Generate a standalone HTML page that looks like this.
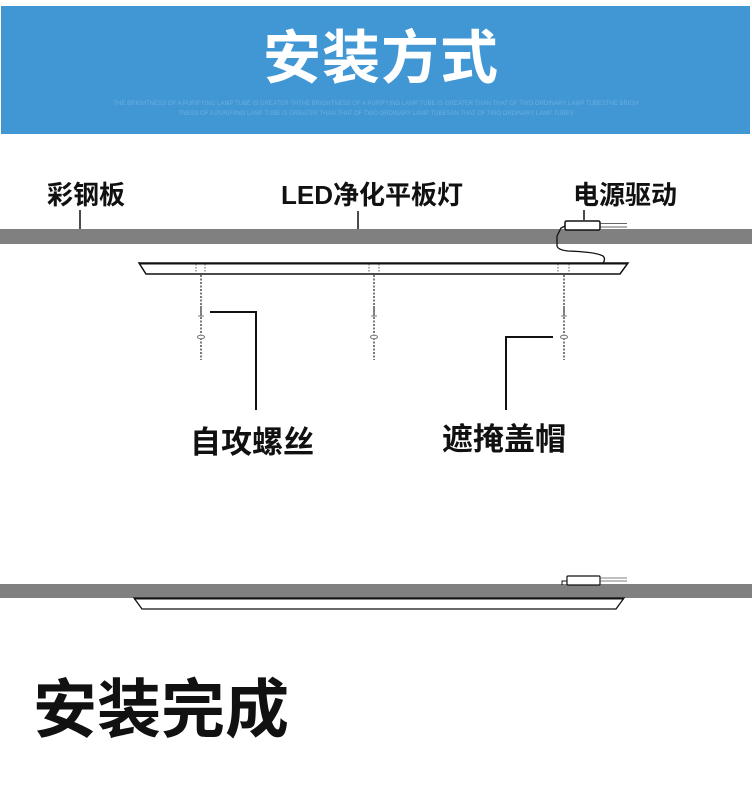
<!DOCTYPE html>
<html><head><meta charset="utf-8"><style>
html,body{margin:0;padding:0;background:#fff;}
body{width:752px;height:805px;position:relative;overflow:hidden;font-family:"Liberation Sans","Noto Sans CJK SC",sans-serif;}
.t{position:absolute;font-weight:bold;color:#111;white-space:nowrap;line-height:1;}
</style></head><body>
<div style="position:absolute;left:1px;top:6px;width:749px;height:128px;background:#4196d4;"></div>
<div class="t" style="left:263px;top:30px;font-size:58px;color:#fff;letter-spacing:1px;">安装方式</div>
<div style="position:absolute;left:0;width:752px;top:99px;text-align:center;font-size:6px;color:#6aaee0;line-height:10px;font-family:'Liberation Sans',sans-serif;">THE BRIGHTNESS OF A PURIFYING LAMP TUBE IS GREATER THTHE BRIGHTNESS OF A PURIFYING LAMP TUBE IS GREATER THAN THAT OF TWO ORDINARY LAMP TUBESTHE BRIGH<br>TNESS OF A PURIFIING LANP TUBE IS GREATER THAN THAT OF TWO ORDINARY LAMP TUBESAN THAT OF TWO ORDINARY LAMP TUBES</div>

<div class="t" style="left:47px;top:182px;font-size:26px;">彩钢板</div>
<div class="t" style="left:281px;top:182px;font-size:26px;">LED净化平板灯</div>
<div class="t" style="left:573px;top:182px;font-size:26px;">电源驱动</div>
<div class="t" style="left:190px;top:427px;font-size:31px;">自攻螺丝</div>
<div class="t" style="left:442px;top:424px;font-size:31px;">遮掩盖帽</div>
<div class="t" style="left:33px;top:678px;font-size:64px;">安装完成</div>

<svg width="752" height="805" style="position:absolute;left:0;top:0" xmlns="http://www.w3.org/2000/svg">
<g stroke="#111" fill="none">
<line x1="80" y1="210" x2="80" y2="229" stroke-width="1.5"/>
<line x1="358" y1="211" x2="358" y2="229" stroke-width="1.5"/>
<line x1="584" y1="210" x2="584" y2="220" stroke-width="1.5"/>
</g>
<rect x="0" y="229" width="752" height="15" fill="#808080"/>
<!-- driver -->
<rect x="565" y="221" width="35" height="9" rx="1.5" fill="#fff" stroke="#111" stroke-width="1.5"/>
<line x1="600" y1="223.5" x2="627" y2="223.5" stroke="#333" stroke-width="0.8"/>
<line x1="600" y1="227" x2="627" y2="227" stroke="#333" stroke-width="0.8"/>
<path d="M565,226 L561,228 L557,236 L557,246 Q558,250 568,251 Q596,252 603,256 Q606,259 603,263" fill="none" stroke="#111" stroke-width="1.3" stroke-dasharray="none"/>
<!-- panel -->
<path d="M139,263 L628,263 L620,274 L146,274 Z" fill="#fff" stroke="#111" stroke-width="1.5"/>
<line x1="139" y1="263.5" x2="628" y2="263.5" stroke="#111" stroke-width="2"/>
<g stroke="#333" stroke-width="0.8" stroke-dasharray="1.5,1.5">
<line x1="196" y1="264" x2="196" y2="273"/><line x1="205" y1="264" x2="205" y2="273"/>
<line x1="369" y1="264" x2="369" y2="273"/><line x1="379" y1="264" x2="379" y2="273"/>
<line x1="558" y1="264" x2="558" y2="273"/><line x1="569" y1="264" x2="569" y2="273"/>
</g>
<g stroke="#333" stroke-width="1.3" stroke-dasharray="2,1.5">
<line x1="201" y1="275" x2="201" y2="360"/>
<line x1="374" y1="275" x2="374" y2="360"/>
<line x1="564" y1="275" x2="564" y2="360"/>
</g>
<g fill="#fff" stroke="#777" stroke-width="1">
<line x1="201" y1="306" x2="201" y2="316" stroke-width="1.8"/><line x1="198" y1="316" x2="204" y2="316"/>
<line x1="374" y1="306" x2="374" y2="316" stroke-width="1.8"/><line x1="371" y1="316" x2="377" y2="316"/>
<line x1="564" y1="306" x2="564" y2="316" stroke-width="1.8"/><line x1="561" y1="316" x2="567" y2="316"/>
<ellipse cx="201" cy="337" rx="3.5" ry="1.8"/>
<ellipse cx="374" cy="337" rx="3.5" ry="1.8"/>
<ellipse cx="564" cy="337" rx="3.5" ry="1.8"/>
</g>
<path d="M210,312 L256,312 L256,410" fill="none" stroke="#111" stroke-width="2"/>
<path d="M553,337 L506,337 L506,410" fill="none" stroke="#111" stroke-width="2"/>

<!-- second -->
<rect x="0" y="584" width="752" height="14" fill="#808080"/>
<rect x="567" y="576" width="33" height="9" rx="1" fill="#fff" stroke="#111" stroke-width="1.2"/>
<line x1="600" y1="578" x2="627" y2="578" stroke="#555" stroke-width="0.8"/>
<line x1="600" y1="581" x2="627" y2="581" stroke="#555" stroke-width="0.8"/>
<path d="M567,581 L562,581 L562,585" fill="none" stroke="#111" stroke-width="1"/>
<path d="M134,598 L624,598 L616,609 L142,609 Z" fill="#fff" stroke="#111" stroke-width="1.3"/>
<line x1="134" y1="598.5" x2="624" y2="598.5" stroke="#111" stroke-width="2"/>
</svg>
</body></html>
